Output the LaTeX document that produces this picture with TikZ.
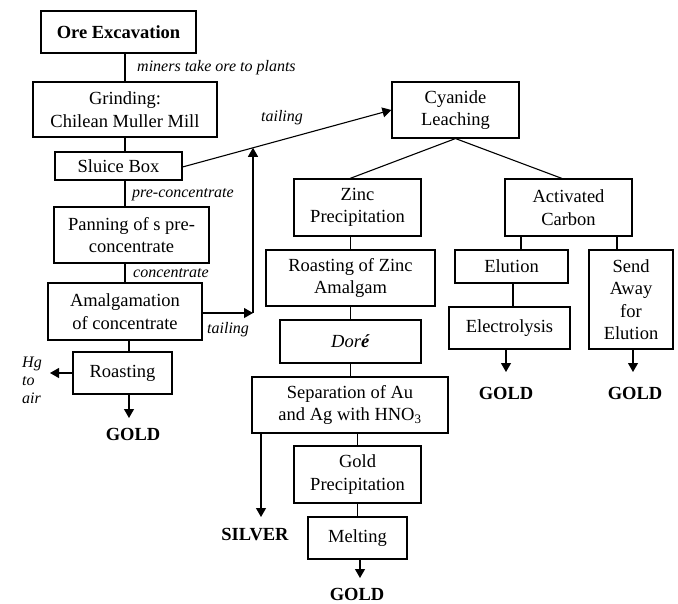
\documentclass[tikz,border=0pt]{standalone}
\usepackage{fontspec}
\setmainfont{Liberation Serif}
\usetikzlibrary{arrows.meta,calc}
\begin{document}
\begin{tikzpicture}[x=1pt,y=-1pt,
  box/.style={draw,line width=1.1pt,align=center,inner sep=0pt,font=\fontsize{18.5}{22.5}\selectfont},
  wh/.style 2 args={minimum width=#1pt,minimum height=#2pt},
  lab/.style={font=\fontsize{16}{18}\selectfont\itshape,inner sep=0pt},
  outp/.style={font=\fontsize{18.5}{22}\selectfont\bfseries,inner sep=0pt},
  ln/.style={line width=1.1pt},
  arr/.style={line width=1.1pt,-{Triangle[length=9pt,width=10pt]}}]
\useasboundingbox (0,0) rectangle (678,603);
% left column
\node[box,wh={155}{42}] (ore) at (118.5,32) {\textbf{Ore Excavation}};
\node[box,wh={184}{55}] (grind) at (125,109.5) {Grinding:\\Chilean Muller Mill};
\node[box,wh={127}{28}] (sluice) at (118.5,166) {Sluice Box};
\node[box,wh={155}{56}] (pan) at (131.5,235) {Panning of s pre-\\concentrate};
\node[box,wh={154}{57}] (amal) at (125,311.5) {Amalgamation\\of concentrate};
\node[box,wh={99}{42}] (roast) at (122.5,373) {Roasting};
% middle column
\node[box,wh={127}{56}] (cyan) at (455.5,110) {Cyanide\\Leaching};
\node[box,wh={127}{57}] (zinc) at (357.5,207.5) {Zinc\\Precipitation};
\node[box,wh={169}{56}] (rzinc) at (350.5,278) {Roasting of Zinc\\Amalgam};
\node[box,wh={141}{43}] (dore) at (350.5,341.5) {\textit{Dor\textbf{é}}};
\node[box,wh={196}{56}] (sep) at (350,405) {Separation of Au\\and Ag with HNO\textsubscript{3}};
\node[box,wh={127}{57}] (gprec) at (357.5,474.5) {Gold\\Precipitation};
\node[box,wh={99}{42}] (melt) at (357.5,538) {Melting};
% right
\node[box,wh={127}{57}] (act) at (568.5,207.5) {Activated\\Carbon};
\node[box,wh={113}{33}] (elut) at (511.5,266.5) {Elution};
\node[box,wh={121}{42}] (elec) at (509.5,328) {Electrolysis};
\node[box,wh={84}{99}] (send) at (631,299.5) {Send\\Away\\for\\Elution};
% outputs
\node[outp] (g1) at (133,434) {GOLD};
\node[outp] (silver) at (255,535) {SILVER};
\node[outp] (g2) at (357,594) {GOLD};
\node[outp] (g3) at (506,393) {GOLD};
\node[outp] (g4) at (635,393) {GOLD};
\node[lab,align=left,anchor=west] (hg) at (22,380) {Hg\\to\\air};
% labels
\node[lab,anchor=west] (l1) at (137,68) {miners take ore to plants};
\node[lab] (l2) at (282,118) {tailing};
\node[lab,anchor=west] (l3) at (132,195) {pre-concentrate};
\node[lab,anchor=west] (l4) at (133,273) {concentrate};
\node[lab,anchor=west] (l5) at (207,330) {tailing};
% arrow ends
\coordinate (g1t) at (129,418);
\coordinate (hgt) at (50,373);
\coordinate (silt) at (261,517);
\coordinate (g2t) at (360,578);
\coordinate (g3t) at (506,372);
\coordinate (g4t) at (633,372);
% connectors
\draw[ln] (grind.north |- ore.south) -- (grind.north);
\draw[ln] (grind.south) -- (grind.south |- sluice.north);
\draw[ln] (sluice.south -| grind.south) -- (pan.north -| grind.south);
\draw[ln] (pan.south -| amal.north) -- (amal.north);
\draw[ln] (amal.south -| g1t) -- (roast.north -| g1t);
\draw[arr] (roast.south -| g1t) -- (g1t);
\draw[arr] (roast.west |- hgt) -- (hgt);
% tailing paths
\coordinate (sA) at ([yshift=-1pt]sluice.east);
\coordinate (cA) at (cyan.west);
\draw[arr] (sA) -- (cA);
\coordinate (tj) at (253,313);
\draw[arr] (amal.east |- tj) -- (tj);
\draw[arr] (tj) -- (intersection of sA--cA and tj--253,0);
% cyanide branches
\draw[ln] (cyan.south) -- (zinc.north -| 350,0);
\draw[ln] (cyan.south) -- (act.north -| 562,0);
\draw[ln] (zinc.south -| rzinc.north) -- (rzinc.north);
\draw[ln] (rzinc.south) -- (dore.north);
\draw[ln] (dore.south) -- (sep.north -| dore.south);
\draw[ln] (sep.south -| gprec.north) -- (gprec.north);
\draw[ln] (gprec.south) -- (melt.north);
\draw[arr] (melt.south -| g2t) -- (g2t);
\draw[arr] (sep.south -| silt) -- (silt);
\draw[ln] (act.south -| 521,0) -- (elut.north -| 521,0);
\draw[ln] (act.south -| 617,0) -- (send.north -| 617,0);
\draw[ln] (elut.south -| 513,0) -- (elec.north -| 513,0);
\draw[arr] (elec.south -| g3t) -- (g3t);
\draw[arr] (send.south -| g4t) -- (g4t);
\end{tikzpicture}
\end{document}
